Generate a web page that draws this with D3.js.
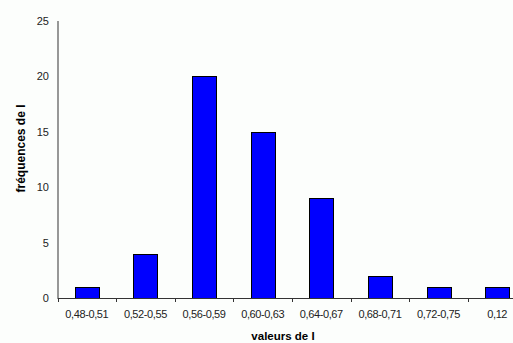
<!DOCTYPE html>
<html><head><meta charset="utf-8">
<script src="https://cdn.jsdelivr.net/npm/d3@7"></script>
<style>
html,body{margin:0;padding:0;background:#fcfefc;}
svg{display:block;}
text{font-family:Arial,"Liberation Sans",sans-serif;}
</style></head>
<body>
<script>
const categories = ["0,48-0,51","0,52-0,55","0,56-0,59","0,60-0,63","0,64-0,67","0,68-0,71","0,72-0,75","0,12"];
const values = [1,4,20,15,9,2,1,1];
const yTicks = [0,5,10,15,20,25];
const xTitle = "valeurs de I";
const yTitle = "fréquences de I";

const W = 513, H = 343;
const svg = d3.select("body").append("svg").attr("width", W).attr("height", H);
svg.append("rect").attr("width", W).attr("height", H).attr("fill", "#fcfefc");

const x0 = 57.5, x1 = 526.5, yTop = 21, yBot = 298;
const pi = 0.59;
const x = d3.scaleBand().domain(categories).range([x0, x1]).paddingInner(pi).paddingOuter(pi/2);
const y = d3.scaleLinear().domain([0, 25]).range([yBot, yTop]);

// bars
svg.append("g").selectAll("rect").data(values).join("rect")
  .attr("x", (d,i) => Math.round(x(categories[i])) + 0.5)
  .attr("y", d => Math.round(y(d)) + 0.5)
  .attr("width", Math.round(x.bandwidth()))
  .attr("height", d => Math.round(y(0)) - Math.round(y(d)))
  .attr("fill", "#0000ff")
  .attr("stroke", "#000")
  .attr("stroke-width", 1);

// y axis
const yAxis = d3.axisLeft(y).tickValues(yTicks).tickSize(3).tickPadding(6).tickFormat(d3.format("d"));
const gy = svg.append("g").attr("transform", `translate(${x0},0)`).call(yAxis);
gy.select(".domain").attr("stroke", "#333").attr("d", `M0.5,${yTop}V${yBot}`);
gy.selectAll(".tick line").attr("stroke", "#333").attr("x1", -3).attr("transform", "translate(0.5,0)");
gy.selectAll(".tick text").attr("font-size", 11).attr("fill", "#222").attr("font-family", "Arial, 'Liberation Sans', sans-serif").attr("x", -9).attr("letter-spacing", "-0.3px");

// x axis line
const gx = svg.append("g");
gx.append("line").attr("x1", x0).attr("x2", W).attr("y1", yBot + 0.5).attr("y2", yBot + 0.5).attr("stroke", "#333");
const step = x.step();
gx.selectAll("line.tk").data(categories).join("line").attr("class","tk")
  .attr("x1", d => Math.round(x(d) - step*pi/2) + 0.5)
  .attr("x2", d => Math.round(x(d) - step*pi/2) + 0.5)
  .attr("y1", yBot).attr("y2", yBot + 4).attr("stroke", "#333");
gx.selectAll("text").data(categories).join("text")
  .attr("x", d => x(d) + x.bandwidth()/2)
  .attr("y", 318)
  .attr("text-anchor", "middle")
  .attr("font-size", 11)
  .attr("letter-spacing", "-0.4px")
  .attr("fill", "#222")
  .text(d => d);

// titles
svg.append("text").attr("x", 283).attr("y", 340).attr("text-anchor", "middle")
  .attr("font-size", 11.5).attr("font-weight", "bold").attr("fill", "#000").text(xTitle);
svg.append("text").attr("transform", "translate(25,148.5) rotate(-90)").attr("text-anchor", "middle")
  .attr("font-size", 12).attr("font-weight", "bold").attr("fill", "#000").text(yTitle);
</script>
</body></html>
